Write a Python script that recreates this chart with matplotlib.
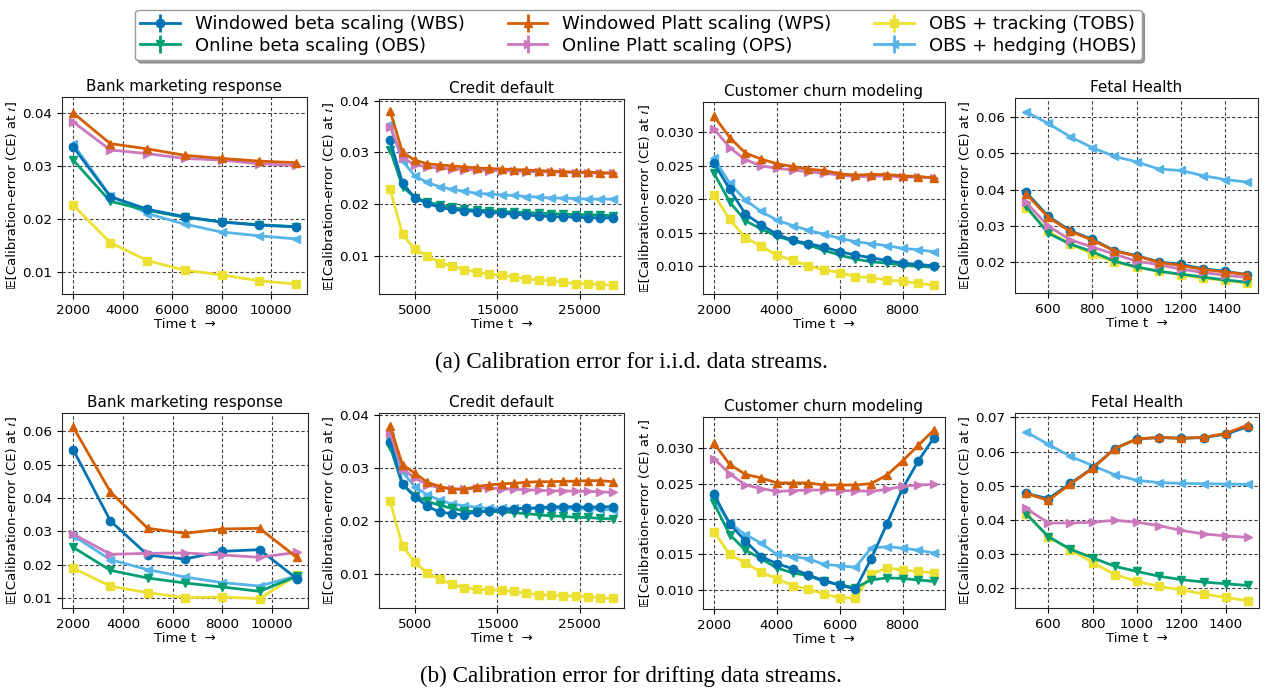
import matplotlib
matplotlib.use('Agg')
import numpy as np
import matplotlib.pyplot as plt

# methods, in legend order (column-wise fill with ncol=3)
methods = ['WBS', 'OBS', 'WPS', 'OPS', 'TOBS', 'HOBS']
labels = ['Windowed beta scaling (WBS)', 'Online beta scaling (OBS)',
          'Windowed Platt scaling (WPS)', 'Online Platt scaling (OPS)',
          'OBS + tracking (TOBS)', 'OBS + hedging (HOBS)']
colors = {'WBS': '#0173b2', 'OBS': '#029e73', 'WPS': '#d55e00',
          'OPS': '#cc78bc', 'TOBS': '#ece133', 'HOBS': '#56b4e9'}
markers = {'WBS': 'o', 'OBS': 'v', 'WPS': '^', 'OPS': '>', 'TOBS': 's', 'HOBS': '<'}
# draw order (first drawn is at the bottom)
draw_order = ['TOBS', 'HOBS', 'OBS', 'WBS', 'OPS', 'WPS']

titles = ['Bank marketing response', 'Credit default',
          'Customer churn modeling', 'Fetal Health']

t_bank = [2000, 3500, 5000, 6500, 8000, 9500, 11000]
t_credit = list(range(2000, 29001, 1500))
t_churn = list(range(2000, 9001, 500))
t_fetal = list(range(500, 1501, 100))

# ---- i.i.d. streams ----
bank_iid = {
    'WPS': [0.0400, 0.0342, 0.0332, 0.0320, 0.0314, 0.0309, 0.0306],
    'OPS': [0.0383, 0.0330, 0.0323, 0.0314, 0.0311, 0.0304, 0.0301],
    'WBS': [0.0336, 0.0242, 0.0218, 0.0204, 0.0194, 0.0188, 0.0185],
    'OBS': [0.0311, 0.0233, 0.0216, 0.0203, 0.0194, 0.0189, 0.0185],
    'HOBS': [0.0341, 0.0243, 0.0210, 0.0190, 0.0175, 0.0168, 0.0162],
    'TOBS': [0.0226, 0.0155, 0.0121, 0.0103, 0.0094, 0.0083, 0.0077],
}
credit_iid = {
    'WPS': [0.0380, 0.0300, 0.0285, 0.0278, 0.0276, 0.0274, 0.0272, 0.0270, 0.0269,
            0.0268, 0.0267, 0.0266, 0.0265, 0.0264, 0.0263, 0.0262, 0.0262, 0.0261, 0.0260],
    'OPS': [0.0349, 0.0290, 0.0276, 0.0272, 0.0270, 0.0268, 0.0267, 0.0266, 0.0265,
            0.0265, 0.0264, 0.0263, 0.0263, 0.0262, 0.0262, 0.0261, 0.0261, 0.0260, 0.0260],
    'HOBS': [0.0354, 0.0283, 0.0255, 0.0242, 0.0234, 0.0229, 0.0225, 0.0221, 0.0220,
             0.0218, 0.0217, 0.0215, 0.0214, 0.0212, 0.0212, 0.0211, 0.0210, 0.0210, 0.0210],
    'WBS': [0.0323, 0.0241, 0.0212, 0.0202, 0.0194, 0.0190, 0.0188, 0.0186, 0.0184,
            0.0183, 0.0181, 0.0179, 0.0178, 0.0176, 0.0176, 0.0175, 0.0174, 0.0174, 0.0173],
    'OBS': [0.0305, 0.0234, 0.0213, 0.0204, 0.0199, 0.0194, 0.0190, 0.0189, 0.0188,
            0.0186, 0.0185, 0.0184, 0.0183, 0.0182, 0.0181, 0.0180, 0.0180, 0.0179, 0.0178],
    'TOBS': [0.0229, 0.0142, 0.0113, 0.0101, 0.0087, 0.0081, 0.0074, 0.0069, 0.0065,
             0.0063, 0.0060, 0.0056, 0.0054, 0.0052, 0.0050, 0.0047, 0.0047, 0.0045, 0.0044],
}
churn_iid = {
    'WPS': [0.0324, 0.0292, 0.0269, 0.0260, 0.0253, 0.0249, 0.0245, 0.0243, 0.0238,
            0.0236, 0.0237, 0.0237, 0.0235, 0.0234, 0.0232],
    'OPS': [0.0305, 0.0277, 0.0259, 0.0250, 0.0246, 0.0244, 0.0241, 0.0239, 0.0236,
            0.0234, 0.0234, 0.0235, 0.0233, 0.0233, 0.0232],
    'HOBS': [0.0261, 0.0224, 0.0199, 0.0182, 0.0169, 0.0161, 0.0154, 0.0148, 0.0142,
             0.0137, 0.0134, 0.0131, 0.0127, 0.0125, 0.0122],
    'WBS': [0.0254, 0.0215, 0.0178, 0.0162, 0.0148, 0.0139, 0.0134, 0.0129, 0.0122,
            0.0117, 0.0113, 0.0109, 0.0105, 0.0103, 0.0101],
    'OBS': [0.0239, 0.0196, 0.0168, 0.0156, 0.0145, 0.0138, 0.0132, 0.0124, 0.0117,
            0.0111, 0.0107, 0.0105, 0.0102, 0.0100, 0.0099],
    'TOBS': [0.0207, 0.0170, 0.0143, 0.0130, 0.0117, 0.0109, 0.0101, 0.0095, 0.0091,
             0.0085, 0.0083, 0.0080, 0.0078, 0.0075, 0.0072],
}
fetal_iid = {
    'HOBS': [0.0615, 0.0583, 0.0546, 0.0516, 0.0492, 0.0477, 0.0457, 0.0453, 0.0439, 0.0428, 0.0421],
    'WBS': [0.0393, 0.0327, 0.0287, 0.0263, 0.0232, 0.0218, 0.0201, 0.0194, 0.0182, 0.0175, 0.0166],
    'WPS': [0.0389, 0.0324, 0.0285, 0.0261, 0.0231, 0.0217, 0.0200, 0.0191, 0.0180, 0.0173, 0.0166],
    'OPS': [0.0365, 0.0300, 0.0262, 0.0242, 0.0222, 0.0203, 0.0193, 0.0181, 0.0172, 0.0164, 0.0158],
    'OBS': [0.0354, 0.0280, 0.0250, 0.0229, 0.0203, 0.0187, 0.0175, 0.0167, 0.0159, 0.0151, 0.0145],
    'TOBS': [0.0350, 0.0285, 0.0251, 0.0222, 0.0201, 0.0186, 0.0176, 0.0165, 0.0156, 0.0150, 0.0142],
}

# ---- drifting streams ----
bank_drift = {
    'WPS': [0.0613, 0.0418, 0.0309, 0.0294, 0.0307, 0.0309, 0.0222],
    'WBS': [0.0545, 0.0331, 0.0229, 0.0217, 0.0240, 0.0245, 0.0158],
    'OPS': [0.0292, 0.0231, 0.0234, 0.0235, 0.0229, 0.0222, 0.0237],
    'HOBS': [0.0287, 0.0215, 0.0185, 0.0163, 0.0146, 0.0136, 0.0166],
    'OBS': [0.0252, 0.0183, 0.0160, 0.0145, 0.0133, 0.0120, 0.0165],
    'TOBS': [0.0190, 0.0135, 0.0116, 0.0101, 0.0103, 0.0098, 0.0168],
}
credit_drift = {
    'WPS': [0.0378, 0.0306, 0.0290, 0.0273, 0.0265, 0.0260, 0.0260, 0.0265, 0.0268,
            0.0270, 0.0271, 0.0273, 0.0274, 0.0274, 0.0275, 0.0275, 0.0276, 0.0276, 0.0274],
    'OPS': [0.0365, 0.0298, 0.0281, 0.0268, 0.0263, 0.0261, 0.0260, 0.0262, 0.0262,
            0.0261, 0.0260, 0.0259, 0.0258, 0.0257, 0.0257, 0.0256, 0.0256, 0.0255, 0.0254],
    'HOBS': [0.0356, 0.0292, 0.0265, 0.0249, 0.0240, 0.0232, 0.0229, 0.0226, 0.0224,
             0.0224, 0.0224, 0.0224, 0.0224, 0.0224, 0.0224, 0.0223, 0.0223, 0.0222, 0.0221],
    'WBS': [0.0349, 0.0270, 0.0246, 0.0228, 0.0217, 0.0214, 0.0212, 0.0218, 0.0219,
            0.0221, 0.0223, 0.0224, 0.0225, 0.0227, 0.0227, 0.0227, 0.0226, 0.0227, 0.0227],
    'OBS': [0.0340, 0.0268, 0.0248, 0.0237, 0.0230, 0.0224, 0.0219, 0.0218, 0.0218,
            0.0218, 0.0216, 0.0214, 0.0212, 0.0210, 0.0209, 0.0207, 0.0207, 0.0205, 0.0204],
    'TOBS': [0.0237, 0.0153, 0.0123, 0.0102, 0.0091, 0.0082, 0.0075, 0.0072, 0.0071,
             0.0070, 0.0068, 0.0065, 0.0062, 0.0061, 0.0060, 0.0059, 0.0058, 0.0056, 0.0055],
}
churn_drift = {
    'WPS': [0.0307, 0.0277, 0.0263, 0.0258, 0.0251, 0.0251, 0.0251, 0.0248, 0.0248,
            0.0248, 0.0250, 0.0262, 0.0282, 0.0304, 0.0326],
    'OPS': [0.0285, 0.0264, 0.0248, 0.0243, 0.0239, 0.0240, 0.0241, 0.0241, 0.0240,
            0.0240, 0.0239, 0.0242, 0.0246, 0.0248, 0.0249],
    'WBS': [0.0235, 0.0193, 0.0169, 0.0147, 0.0137, 0.0130, 0.0121, 0.0113, 0.0107,
            0.0101, 0.0144, 0.0193, 0.0243, 0.0282, 0.0315],
    'HOBS': [0.0229, 0.0194, 0.0178, 0.0166, 0.0150, 0.0147, 0.0144, 0.0136, 0.0134,
             0.0132, 0.0159, 0.0161, 0.0159, 0.0156, 0.0152],
    'OBS': [0.0222, 0.0178, 0.0156, 0.0144, 0.0131, 0.0124, 0.0120, 0.0112, 0.0107,
            0.0103, 0.0114, 0.0117, 0.0116, 0.0114, 0.0112],
    'TOBS': [0.0182, 0.0150, 0.0138, 0.0125, 0.0116, 0.0106, 0.0101, 0.0094, 0.0089,
             0.0088, 0.0122, 0.0131, 0.0128, 0.0126, 0.0124],
}
fetal_drift = {
    'HOBS': [0.0658, 0.0621, 0.0586, 0.0559, 0.0532, 0.0516, 0.0509, 0.0507, 0.0506, 0.0505, 0.0504],
    'WBS': [0.0478, 0.0462, 0.0507, 0.0552, 0.0609, 0.0637, 0.0641, 0.0639, 0.0641, 0.0651, 0.0673],
    'WPS': [0.0478, 0.0457, 0.0505, 0.0551, 0.0609, 0.0637, 0.0642, 0.0639, 0.0642, 0.0653, 0.0678],
    'OPS': [0.0434, 0.0391, 0.0391, 0.0393, 0.0399, 0.0393, 0.0383, 0.0369, 0.0359, 0.0353, 0.0349],
    'OBS': [0.0418, 0.0351, 0.0314, 0.0289, 0.0264, 0.0249, 0.0235, 0.0225, 0.0218, 0.0213, 0.0208],
    'TOBS': [0.0418, 0.0351, 0.0312, 0.0275, 0.0240, 0.0220, 0.0205, 0.0195, 0.0183, 0.0173, 0.0163],
}

W, H = 1269, 694
fig = plt.figure(figsize=(W / 100, H / 100), dpi=100, facecolor='white')


def box(left, top, right, bottom):
    """pixel box -> figure fraction rect"""
    return [left / W, 1 - bottom / H, (right - left) / W, (bottom - top) / H]


panels = [
    # (times, data, pixel box, ylim, xticks)
    (t_bank, bank_iid, (62, 97, 307, 294), (0.0058, 0.0430), [2000, 4000, 6000, 8000, 10000]),
    (t_credit, credit_iid, (379, 99, 624, 294), (0.0027, 0.0403), [5000, 15000, 25000]),
    (t_churn, churn_iid, (703, 102, 945, 294), (0.0059, 0.0345), [2000, 4000, 6000, 8000]),
    (t_fetal, fetal_iid, (1015, 98, 1258, 293), (0.0115, 0.0653), [600, 800, 1000, 1200, 1400]),
    (t_bank, bank_drift, (62, 413, 308, 608), (0.0070, 0.0655), [2000, 4000, 6000, 8000, 10000]),
    (t_credit, credit_drift, (379, 413, 624, 608), (0.0037, 0.0403), [5000, 15000, 25000]),
    (t_churn, churn_drift, (703, 417, 945, 609), (0.0073, 0.0344), [2000, 4000, 6000, 8000]),
    (t_fetal, fetal_drift, (1015, 413, 1259, 608), (0.0142, 0.0713), [600, 800, 1000, 1200, 1400]),
]

# double-struck E and italic t come from STIX when DejaVu lacks them
ylabel = '\U0001D53C[Calibration-error (CE) at \U0001D461]'

handles = {}
for i, (t, data, px, ylim, xticks) in enumerate(panels):
    ax = fig.add_axes(box(*px))
    for m in draw_order:
        y = np.asarray(data[m])
        h = ax.errorbar(t, y, yerr=np.zeros_like(y), color=colors[m],
                        marker=markers[m], markersize=6, linewidth=2,
                        elinewidth=2, capsize=0)
        handles[m] = h
    ax.set_ylim(*ylim)
    ax.set_xticks(xticks)
    ax.set_title(titles[i % 4], fontsize=11, pad=4)
    ax.set_xlabel('Time t  \u2192', fontsize=9.5, labelpad=1)
    ax.set_ylabel(ylabel, fontsize=9.5, labelpad=2,
                  family=['DejaVu Sans', 'STIXGeneral'])
    ax.tick_params(labelsize=9.7, length=3.5)
    ax.grid(True, color='0.25', linestyle=(0, (3, 2)), linewidth=0.8)
    ax.set_axisbelow(True)
    for s in ax.spines.values():
        s.set_color('0.15')

leg = fig.legend([handles[m] for m in methods], labels, ncol=3, loc='upper center',
                 bbox_to_anchor=(0.503, 0.999), fontsize=13, shadow=True,
                 columnspacing=2.4, handlelength=2.2, borderpad=0.3,
                 labelspacing=0.2, handletextpad=0.8, fancybox=True)
leg.get_frame().set_edgecolor('0.6')

fig.text(631 / W, 1 - 362 / H, '(a) Calibration error for i.i.d. data streams.',
         ha='center', va='center', fontsize=16.7, family='Liberation Serif')
fig.text(631 / W, 1 - 676 / H, '(b) Calibration error for drifting data streams.',
         ha='center', va='center', fontsize=16.7, family='Liberation Serif')

fig.savefig('out.png', dpi=100)
